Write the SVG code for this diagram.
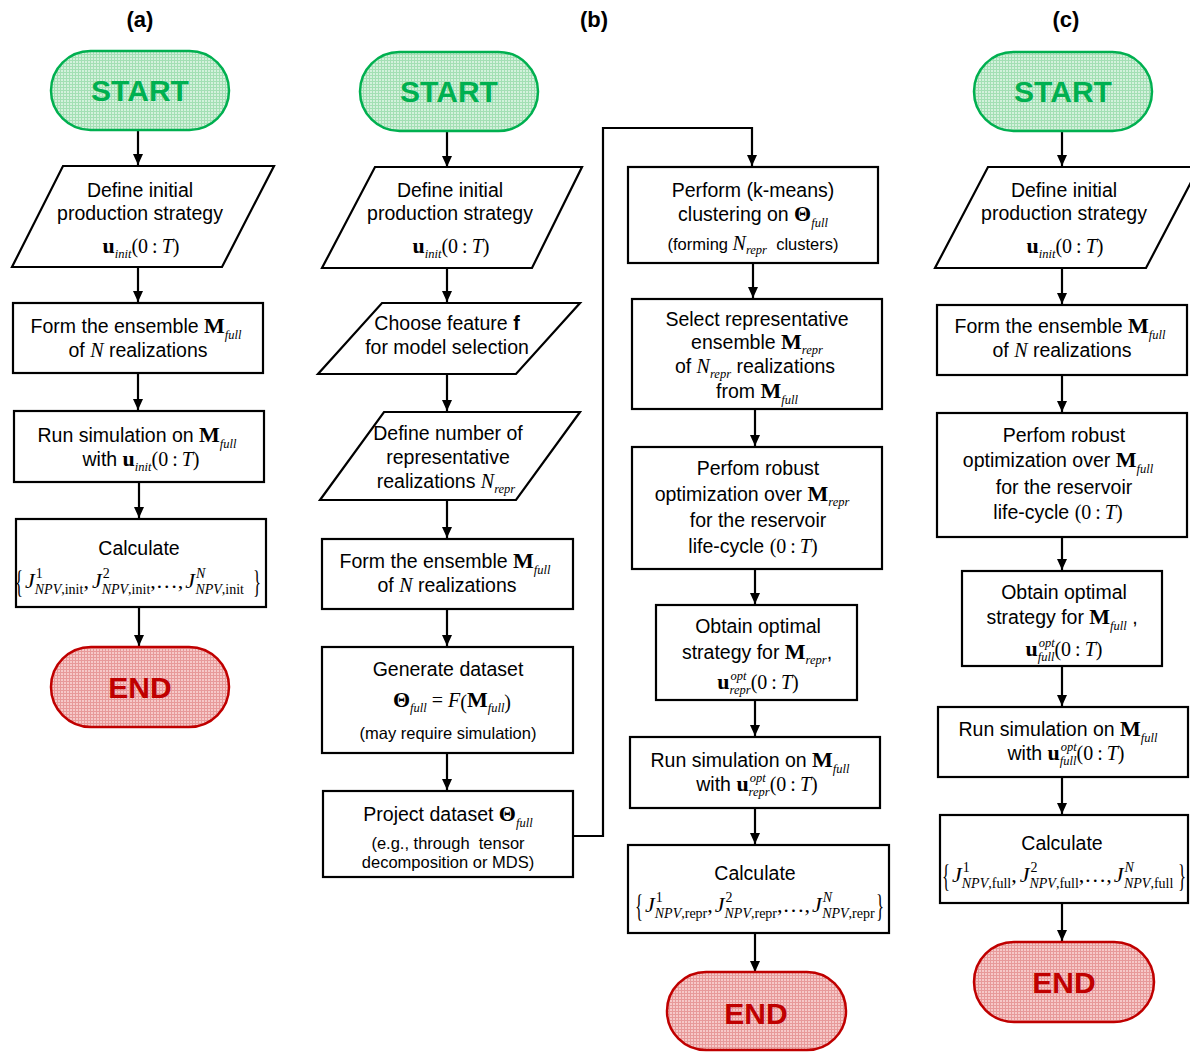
<svg xmlns="http://www.w3.org/2000/svg" width="1190" height="1052" viewBox="0 0 1190 1052">
<style>
.t{font-family:"Liberation Sans",Arial,sans-serif;font-size:19.5px;fill:#000;text-anchor:middle}
.sm{font-size:16.5px}
.lbl{font-family:"Liberation Sans",Arial,sans-serif;font-size:22px;font-weight:bold;text-anchor:middle;fill:#000}
.mb{font-family:"Liberation Serif","Times New Roman",serif;font-weight:bold;font-size:22px}
.mi{font-family:"Liberation Serif","Times New Roman",serif;font-style:italic;font-size:20px}
.mr{font-family:"Liberation Serif","Times New Roman",serif;font-size:20px}
.sb{font-family:"Liberation Serif","Times New Roman",serif;font-style:italic;font-size:12.5px}
.box{fill:#fff;stroke:#000;stroke-width:2.2}
.con{fill:none;stroke:#000;stroke-width:2.2;marker-end:url(#ah)}
.start{fill:url(#gp);stroke:#00b050;stroke-width:2.5}
.end{fill:url(#rp);stroke:#c00000;stroke-width:2.5}
.st{font-family:"Liberation Sans",Arial,sans-serif;font-size:30px;font-weight:bold;text-anchor:middle;fill:#00b050}
.et{font-family:"Liberation Sans",Arial,sans-serif;font-size:30px;font-weight:bold;text-anchor:middle;fill:#c00000}
.fm{font-family:"Liberation Serif","Times New Roman",serif;font-size:22px;fill:#000}
.fJ{font-style:italic}
.fs{font-size:14px}
.fsi{font-size:14px;font-style:italic}
.fbr{font-family:"Liberation Serif","Times New Roman",serif;font-size:28px;fill:#000}
</style>
<defs>
<marker id="ah" markerUnits="userSpaceOnUse" markerWidth="12" markerHeight="12" refX="11" refY="6" orient="auto"><path d="M0,1 L11,6 L0,11 Z" fill="#000"/></marker>
<pattern id="gp" width="3" height="3" patternUnits="userSpaceOnUse"><rect width="3" height="3" fill="#d3f1dc"/><path d="M0,0.5H3M0.5,0V3" stroke="#a3dfb4" stroke-width="1"/></pattern>
<pattern id="rp" width="3" height="3" patternUnits="userSpaceOnUse"><rect width="3" height="3" fill="#f6c9c9"/><path d="M0,0.5H3M0.5,0V3" stroke="#e79a9a" stroke-width="1"/></pattern>
</defs>

<text class="lbl" x="140" y="27">(a)</text>
<text class="lbl" x="594" y="27">(b)</text>
<text class="lbl" x="1066" y="27">(c)</text>

<g id="connectors">
<path class="con" d="M138,131V165"/>
<path class="con" d="M138,267V302"/>
<path class="con" d="M138,373V410"/>
<path class="con" d="M139,482V518"/>
<path class="con" d="M139,607V646"/>

<path class="con" d="M447,131V167"/>
<path class="con" d="M447,268V302"/>
<path class="con" d="M447,374V411"/>
<path class="con" d="M447,500V538"/>
<path class="con" d="M447,609V646"/>
<path class="con" d="M447,753V790"/>
<path class="con" d="M573,836H603V128H752V166"/>
<path class="con" d="M753,263V298"/>
<path class="con" d="M755,409V446"/>
<path class="con" d="M755,569V604"/>
<path class="con" d="M755,700V736"/>
<path class="con" d="M755,808V844"/>
<path class="con" d="M755,933V972"/>

<path class="con" d="M1062,131V166"/>
<path class="con" d="M1062,268V304"/>
<path class="con" d="M1062,375V412"/>
<path class="con" d="M1062,537V570"/>
<path class="con" d="M1062,666V706"/>
<path class="con" d="M1062,777V814"/>
<path class="con" d="M1062,903V941"/>
</g>

<!-- Column (a) -->
<g id="a_start"><rect class="start" x="51" y="51" width="178" height="79" rx="39.5"/><text class="st" x="140" y="101">START</text></g>
<g id="a_define"><polygon class="box" points="63,166 274,166 222,267 12,267"/>
<text class="t" x="140" y="197">Define initial</text>
<text class="t" x="140" y="220">production strategy</text>
<text class="t" x="141" y="253"><tspan class="mb">u</tspan><tspan class="sb" dy="5">init</tspan><tspan class="mr" dy="-5">(0&#8201;:&#8201;</tspan><tspan class="mi">T</tspan><tspan class="mr">)</tspan></text>
</g>
<g id="a_form"><rect class="box" x="13" y="303" width="250" height="70"/>
<text class="t" x="136" y="333">Form the ensemble <tspan class="mb">M</tspan><tspan class="sb" dy="6">full</tspan></text>
<text class="t" x="138" y="357">of <tspan class="mi">N</tspan> realizations</text>
</g>
<g id="a_run"><rect class="box" x="14" y="411" width="250" height="71"/>
<text class="t" x="137" y="442">Run simulation on <tspan class="mb">M</tspan><tspan class="sb" dy="6">full</tspan></text>
<text class="t" x="141" y="466">with <tspan class="mb">u</tspan><tspan class="sb" dy="5">init</tspan><tspan class="mr" dy="-5">(0&#8201;:&#8201;</tspan><tspan class="mi">T</tspan><tspan class="mr">)</tspan></text>
</g>
<g id="a_calc"><rect class="box" x="16" y="519" width="250" height="88"/>
<text class="t" x="139" y="555">Calculate</text>
<g transform="translate(15,588)">
<text class="fbr" transform="translate(0,5) scale(0.6,1.15)">{</text>
<text class="fm" x="10" y="0"><tspan class="fJ">J</tspan><tspan class="fs" dx="1" dy="-10">1</tspan><tspan class="fsi" dx="-8" dy="16">NPV</tspan><tspan class="fs">,init</tspan><tspan dy="-6">,</tspan><tspan class="fJ" dx="3">J</tspan><tspan class="fs" dx="1" dy="-10">2</tspan><tspan class="fsi" dx="-8" dy="16">NPV</tspan><tspan class="fs">,init</tspan><tspan dy="-6">,…,</tspan><tspan class="fJ" dx="2">J</tspan><tspan class="fsi" dx="1" dy="-10">N</tspan><tspan class="fsi" dx="-10" dy="16">NPV</tspan><tspan class="fs">,init</tspan></text>
<text class="fbr" transform="translate(238,5) scale(0.6,1.15)">}</text>
</g>
</g>
<g id="a_end"><rect class="end" x="51" y="647" width="178" height="80" rx="40"/><text class="et" x="140" y="698">END</text></g>

<!-- Column (b) -->
<g id="b_start"><rect class="start" x="360" y="52" width="178" height="79" rx="39.5"/><text class="st" x="449" y="102">START</text></g>
<g id="b_define"><polygon class="box" points="375,167 582,167 532,268 322,268"/>
<text class="t" x="450" y="197">Define initial</text>
<text class="t" x="450" y="220">production strategy</text>
<text class="t" x="451" y="253"><tspan class="mb">u</tspan><tspan class="sb" dy="5">init</tspan><tspan class="mr" dy="-5">(0&#8201;:&#8201;</tspan><tspan class="mi">T</tspan><tspan class="mr">)</tspan></text>
</g>
<g id="b_feature"><polygon class="box" points="382,303 580,303 516,374 318,374"/>
<text class="t" x="447" y="330">Choose feature <tspan font-weight="bold">f</tspan></text>
<text class="t" x="447" y="354">for model selection</text>
</g>
<g id="b_number"><polygon class="box" points="384,412 580,412 516,500 320,500"/>
<text class="t" x="448" y="440">Define number of</text>
<text class="t" x="448" y="464">representative</text>
<text class="t" x="446" y="488">realizations <tspan class="mi">N</tspan><tspan class="sb" dy="5">repr</tspan></text>
</g>
<g id="b_form"><rect class="box" x="322" y="539" width="251" height="70"/>
<text class="t" x="445" y="568">Form the ensemble <tspan class="mb">M</tspan><tspan class="sb" dy="6">full</tspan></text>
<text class="t" x="447" y="592">of <tspan class="mi">N</tspan> realizations</text>
</g>
<g id="b_generate"><rect class="box" x="322" y="647" width="251" height="106"/>
<text class="t" x="448" y="676">Generate dataset</text>
<text class="t" x="452" y="707"><tspan class="mb">Θ</tspan><tspan class="sb" dy="5">full</tspan><tspan class="mr" dy="-5"> = </tspan><tspan class="mi">F</tspan><tspan class="mr" font-size="27" dy="2">(</tspan><tspan class="mb" dy="-2">M</tspan><tspan class="sb" dy="5">full</tspan><tspan class="mr" font-size="27" dy="-3">)</tspan></text>
<text class="t sm" x="448" y="739">(may require simulation)</text>
</g>
<g id="b_project"><rect class="box" x="323" y="791" width="250" height="86"/>
<text class="t" x="448" y="821">Project dataset <tspan class="mb">Θ</tspan><tspan class="sb" dy="6">full</tspan></text>
<text class="t sm" x="448" y="849">(e.g., through&#160; tensor</text>
<text class="t sm" x="448" y="868">decomposition or MDS)</text>
</g>
<g id="b_cluster"><rect class="box" x="628" y="167" width="250" height="96"/>
<text class="t" x="753" y="197">Perform (k-means)</text>
<text class="t" x="753" y="221">clustering on <tspan class="mb">Θ</tspan><tspan class="sb" dy="6">full</tspan></text>
<text class="t sm" x="753" y="250">(forming <tspan class="mi" font-size="18">N</tspan><tspan class="sb" font-size="11" dy="4">repr</tspan><tspan dy="-4">&#160; clusters)</tspan></text>
</g>
<g id="b_select"><rect class="box" x="632" y="299" width="250" height="110"/>
<text class="t" x="757" y="326">Select representative</text>
<text class="t" x="757" y="349">ensemble <tspan class="mb">M</tspan><tspan class="sb" dy="5">repr</tspan></text>
<text class="t" x="755" y="373">of <tspan class="mi">N</tspan><tspan class="sb" dy="5">repr</tspan><tspan dy="-5"> realizations</tspan></text>
<text class="t" x="757" y="398">from <tspan class="mb">M</tspan><tspan class="sb" dy="6">full</tspan></text>
</g>
<g id="b_robust"><rect class="box" x="632" y="447" width="250" height="122"/>
<text class="t" x="758" y="475">Perfom robust</text>
<text class="t" x="752" y="501">optimization over <tspan class="mb">M</tspan><tspan class="sb" dy="5">repr</tspan></text>
<text class="t" x="758" y="527">for the reservoir</text>
<text class="t" x="753" y="553">life-cycle <tspan class="mr">(0&#8201;:&#8201;</tspan><tspan class="mi">T</tspan><tspan class="mr">)</tspan></text>
</g>
<g id="b_obtain"><rect class="box" x="656" y="605" width="201" height="95"/>
<text class="t" x="758" y="633">Obtain optimal</text>
<text class="t" x="757" y="659">strategy for <tspan class="mb">M</tspan><tspan class="sb" dy="5">repr</tspan><tspan dy="-5">,</tspan></text>
<text class="t" x="758" y="689"><tspan class="mb">u</tspan><tspan class="sb" dx="1" dy="-9">opt</tspan><tspan class="sb" dx="-17" dy="14">repr</tspan><tspan class="mr" dy="-5">(0&#8201;:&#8201;</tspan><tspan class="mi">T</tspan><tspan class="mr">)</tspan></text>
</g>
<g id="b_run"><rect class="box" x="630" y="737" width="250" height="71"/>
<text class="t" x="750" y="767">Run simulation on <tspan class="mb">M</tspan><tspan class="sb" dy="6">full</tspan></text>
<text class="t" x="757" y="791">with <tspan class="mb">u</tspan><tspan class="sb" dx="1" dy="-9">opt</tspan><tspan class="sb" dx="-17" dy="14">repr</tspan><tspan class="mr" dy="-5">(0&#8201;:&#8201;</tspan><tspan class="mi">T</tspan><tspan class="mr">)</tspan></text>
</g>
<g id="b_calc"><rect class="box" x="628" y="845" width="261" height="88"/>
<text class="t" x="755" y="880">Calculate</text>
<g transform="translate(635,912)">
<text class="fbr" transform="translate(0,5) scale(0.6,1.15)">{</text>
<text class="fm" x="10" y="0"><tspan class="fJ">J</tspan><tspan class="fs" dx="1" dy="-10">1</tspan><tspan class="fsi" dx="-8" dy="16">NPV</tspan><tspan class="fs">,repr</tspan><tspan dy="-6">,</tspan><tspan class="fJ" dx="2">J</tspan><tspan class="fs" dx="1" dy="-10">2</tspan><tspan class="fsi" dx="-8" dy="16">NPV</tspan><tspan class="fs">,repr</tspan><tspan dy="-6">,…,</tspan><tspan class="fJ" dx="2">J</tspan><tspan class="fsi" dx="1" dy="-10">N</tspan><tspan class="fsi" dx="-10" dy="16">NPV</tspan><tspan class="fs">,repr</tspan></text>
<text class="fbr" transform="translate(241,5) scale(0.6,1.15)">}</text>
</g>
</g>
<g id="b_end"><rect class="end" x="667" y="972" width="179" height="78" rx="39"/><text class="et" x="756" y="1024">END</text></g>

<!-- Column (c) -->
<g id="c_start"><rect class="start" x="974" y="52" width="178" height="79" rx="39.5"/><text class="st" x="1063" y="102">START</text></g>
<g id="c_define"><polygon class="box" points="988,167 1199,167 1146,268 935,268"/>
<text class="t" x="1064" y="197">Define initial</text>
<text class="t" x="1064" y="220">production strategy</text>
<text class="t" x="1065" y="253"><tspan class="mb">u</tspan><tspan class="sb" dy="5">init</tspan><tspan class="mr" dy="-5">(0&#8201;:&#8201;</tspan><tspan class="mi">T</tspan><tspan class="mr">)</tspan></text>
</g>
<g id="c_form"><rect class="box" x="937" y="305" width="250" height="70"/>
<text class="t" x="1060" y="333">Form the ensemble <tspan class="mb">M</tspan><tspan class="sb" dy="6">full</tspan></text>
<text class="t" x="1062" y="357">of <tspan class="mi">N</tspan> realizations</text>
</g>
<g id="c_robust"><rect class="box" x="937" y="413" width="250" height="124"/>
<text class="t" x="1064" y="442">Perfom robust</text>
<text class="t" x="1058" y="467">optimization over <tspan class="mb">M</tspan><tspan class="sb" dy="6">full</tspan></text>
<text class="t" x="1064" y="494">for the reservoir</text>
<text class="t" x="1058" y="519">life-cycle <tspan class="mr">(0&#8201;:&#8201;</tspan><tspan class="mi">T</tspan><tspan class="mr">)</tspan></text>
</g>
<g id="c_obtain"><rect class="box" x="962" y="571" width="200" height="95"/>
<text class="t" x="1064" y="599">Obtain optimal</text>
<text class="t" x="1062" y="624">strategy for <tspan class="mb">M</tspan><tspan class="sb" dy="6">full</tspan><tspan dy="-6"> ,</tspan></text>
<text class="t" x="1064" y="656"><tspan class="mb">u</tspan><tspan class="sb" dx="1" dy="-9">opt</tspan><tspan class="sb" dx="-17" dy="14">full</tspan><tspan class="mr" dy="-5">(0&#8201;:&#8201;</tspan><tspan class="mi">T</tspan><tspan class="mr">)</tspan></text>
</g>
<g id="c_run"><rect class="box" x="938" y="707" width="250" height="70"/>
<text class="t" x="1058" y="736">Run simulation on <tspan class="mb">M</tspan><tspan class="sb" dy="6">full</tspan></text>
<text class="t" x="1066" y="760">with <tspan class="mb">u</tspan><tspan class="sb" dx="1" dy="-9">opt</tspan><tspan class="sb" dx="-17" dy="14">full</tspan><tspan class="mr" dy="-5">(0&#8201;:&#8201;</tspan><tspan class="mi">T</tspan><tspan class="mr">)</tspan></text>
</g>
<g id="c_calc"><rect class="box" x="940" y="815" width="248" height="88"/>
<text class="t" x="1062" y="850">Calculate</text>
<g transform="translate(942,882)">
<text class="fbr" transform="translate(0,5) scale(0.6,1.15)">{</text>
<text class="fm" x="10" y="0"><tspan class="fJ">J</tspan><tspan class="fs" dx="1" dy="-10">1</tspan><tspan class="fsi" dx="-8" dy="16">NPV</tspan><tspan class="fs">,full</tspan><tspan dy="-6">,</tspan><tspan class="fJ" dx="3">J</tspan><tspan class="fs" dx="1" dy="-10">2</tspan><tspan class="fsi" dx="-8" dy="16">NPV</tspan><tspan class="fs">,full</tspan><tspan dy="-6">,…,</tspan><tspan class="fJ" dx="2">J</tspan><tspan class="fsi" dx="1" dy="-10">N</tspan><tspan class="fsi" dx="-10" dy="16">NPV</tspan><tspan class="fs">,full</tspan></text>
<text class="fbr" transform="translate(236,5) scale(0.6,1.15)">}</text>
</g>
</g>
<g id="c_end"><rect class="end" x="974" y="942" width="180" height="80" rx="40"/><text class="et" x="1064" y="993">END</text></g>
</svg>
